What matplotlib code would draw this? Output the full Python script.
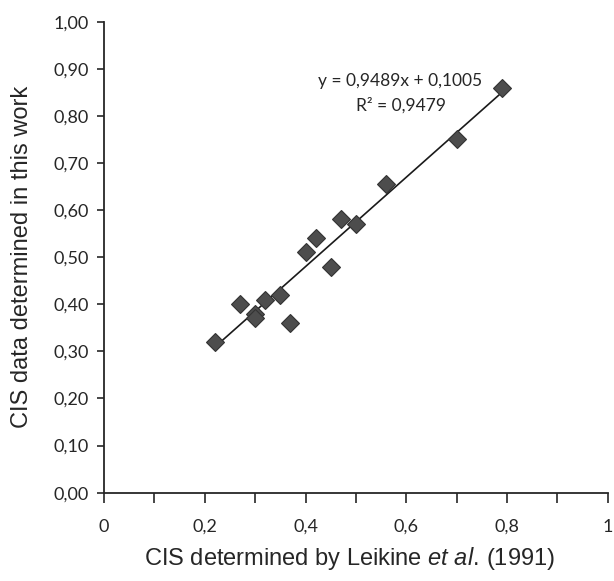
#!/usr/bin/env python3
# -*- coding: utf-8 -*-

import numpy as np
import matplotlib
matplotlib.use("Agg")
import matplotlib.pyplot as plt
from matplotlib.ticker import MultipleLocator, FuncFormatter

OUTPUT_FIG = "out.png"

# CIS values
cis_leikine = [0.22, 0.27, 0.30, 0.30, 0.32, 0.35, 0.37, 0.40, 0.42,
               0.45, 0.47, 0.50, 0.56, 0.70, 0.79]
cis_this_work = [0.32, 0.40, 0.38, 0.37, 0.41, 0.42, 0.36, 0.51, 0.54,
                 0.48, 0.58, 0.57, 0.655, 0.75, 0.86]

slope = 0.9489
intercept = 0.1005
r2 = 0.9479


def comma(v, decimals):
    return f"{v:.{decimals}f}".replace(".", ",")


def main():
    plt.rcParams["mathtext.fontset"] = "custom"
    plt.rcParams["mathtext.rm"] = "Liberation Sans"
    plt.rcParams["mathtext.it"] = "Liberation Sans:italic"

    fig = plt.figure(figsize=(6.14, 5.81), dpi=100)
    ax = fig.add_axes([0.1694, 0.152, 0.8206, 0.8107])

    x = np.asarray(cis_leikine)
    y = np.asarray(cis_this_work)

    # trend line over the data range
    xl = np.array([x.min(), x.max()])
    ax.plot(xl, slope * xl + intercept, color="#1a1a1a", linewidth=1.2, zorder=2)

    ax.plot(x, y, linestyle="none", marker="D", markersize=9.5,
            markerfacecolor="#4d4d4d", markeredgecolor="#333333",
            markeredgewidth=0.8, zorder=3)

    ax.set_xlim(0, 1)
    ax.set_ylim(0, 1)

    ax.xaxis.set_major_locator(MultipleLocator(0.2))
    ax.xaxis.set_minor_locator(MultipleLocator(0.1))
    ax.yaxis.set_major_locator(MultipleLocator(0.1))
    ax.xaxis.set_major_formatter(FuncFormatter(
        lambda v, p: "0" if abs(v) < 1e-9 else ("1" if abs(v - 1) < 1e-9 else comma(v, 1))))
    ax.yaxis.set_major_formatter(FuncFormatter(lambda v, p: comma(v, 2)))

    for s in ["top", "right"]:
        ax.spines[s].set_visible(False)
    for s in ["left", "bottom"]:
        ax.spines[s].set_color("#262626")
        ax.spines[s].set_linewidth(1.3)

    ax.tick_params(axis="x", which="both", direction="out", length=7,
                   width=1.2, color="#262626", pad=12)
    ax.tick_params(axis="y", which="major", direction="out", length=5,
                   width=1.2, color="#262626", pad=6)
    for lab in ax.get_xticklabels() + ax.get_yticklabels():
        lab.set_fontfamily("Lato")
        lab.set_fontsize(13)
        lab.set_color("#262626")

    ax.set_xlabel(r"$\mathrm{CIS\ determined\ by\ Leikine\ }\mathit{et\ al.}\,\mathrm{(1991)}$",
                  fontsize=17, color="#262626")
    ax.set_ylabel("CIS data determined in this work",
                  fontfamily="Liberation Sans", fontsize=17, color="#262626")
    ax.xaxis.set_label_coords(0.488, -0.139)
    ax.yaxis.set_label_coords(-0.163, 0.5)
    ax.xaxis.label.set_va("center")
    ax.yaxis.label.set_va("center")

    ax.text(0.587, 0.874, f"y = {comma(slope, 4)}x + {comma(intercept, 4)}",
            ha="center", va="center", fontfamily="Lato", fontsize=12.5,
            color="#262626")
    ax.text(0.59, 0.823, f"R² = {comma(r2, 4)}",
            ha="center", va="center", fontfamily="Lato", fontsize=12.5,
            color="#262626")

    fig.savefig(OUTPUT_FIG, dpi=100)


if __name__ == "__main__":
    main()
